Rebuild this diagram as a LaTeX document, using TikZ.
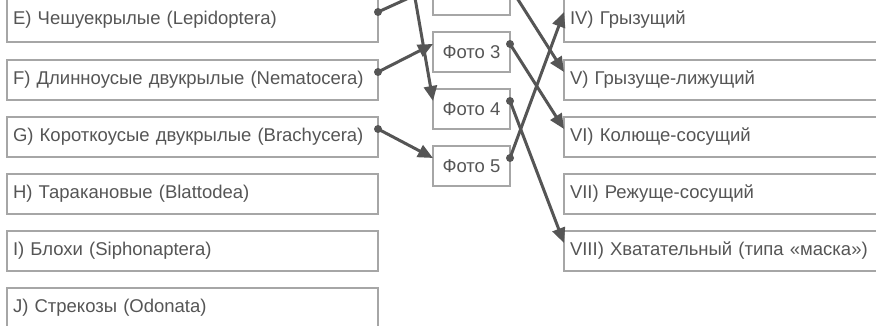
\documentclass[tikz,border=0pt]{standalone}
\usepackage{fontspec}
\setmainfont{Liberation Sans}
\usetikzlibrary{arrows.meta}
\definecolor{framegray}{HTML}{A6A6A6}
\definecolor{inkgray}{HTML}{555555}

\begin{document}
\begin{tikzpicture}[
  x=1pt, y=-1pt,
  order/.style={draw=framegray, line width=2pt, anchor=north west, outer sep=0pt,
    minimum height=40pt, inner xsep=6pt, text width=359pt, align=left,
    text=inkgray, font=\fontsize{18.5}{22}\selectfont},
  mouth/.style={order, text width=328pt},
  photo/.style={draw=framegray, line width=2pt, anchor=north west, outer sep=0pt,
    minimum height=40pt, minimum width=77pt, inner xsep=0pt,
    text=inkgray, font=\fontsize{18.5}{22}\selectfont},
  first/.style={minimum height=44pt},
  link/.style={draw=inkgray, line width=3pt, -{Triangle[length=15pt,width=13pt]}},
  dot/.style={fill=inkgray}
]
\useasboundingbox (0,0) rectangle (876,326);
\clip (0,0) rectangle (876,326);

% orders
\node[order, first] (e) at (7,-2) {E) Чешуекрылые (Lepidoptera)};
\node[order] (f) at (7,60) {F) Длинноусые двукрылые (Nematocera)};
\node[order] (g) at (7,117) {G) Короткоусые двукрылые (Brachycera)};
\node[order] (h) at (7,174) {H) Таракановые (Blattodea)};
\node[order] (i) at (7,231) {I) Блохи (Siphonaptera)};
\node[order] (j) at (7,288) {J) Стрекозы (Odonata)};

% photos
\node[photo] (p2) at (433,-25) {};
\node[photo] (p3) at (433,32) {Фото 3};
\node[photo] (p4) at (433,89) {Фото 4};
\node[photo] (p5) at (433,146) {Фото 5};

% mouthparts
\node[mouth, first] (iv) at (564,-2) {IV) Грызущий};
\node[mouth] (v) at (564,60) {V) Грызуще-лижущий};
\node[mouth] (vi) at (564,117) {VI) Колюще-сосущий};
\node[mouth] (vii) at (564,174) {VII) Режуще-сосущий};
\node[mouth] (viii) at (564,231) {VIII) Хватательный (типа «маска»)};

% free end (box above the picture)
\coordinate (a) at (378,-214);

% order -> photo
\draw[link] ([yshift=8pt]e.east) -- ([yshift=8pt]p2.west);
\draw[link] (a) -- ([yshift=8pt]p4.west);
\draw[link] ([yshift=8pt]f.east) -- ([yshift=8pt]p3.west);
\draw[link] ([yshift=8pt]g.east) -- ([yshift=8pt]p5.west);

% photo -> mouthparts
\draw[link] ([yshift=8pt]p2.east) -- ([yshift=8pt]v.west);
\draw[link] ([yshift=8pt]p3.east) -- ([yshift=8pt]vi.west);
\draw[link] ([yshift=8pt]p4.east) -- ([yshift=8pt]viii.west);
\draw[link] ([yshift=8pt]p5.east) -- ([yshift=8pt]iv.west);

% start dots
\fill[dot] ([yshift=8pt]e.east) circle (4pt);
\fill[dot] ([yshift=8pt]f.east) circle (4pt);
\fill[dot] ([yshift=8pt]g.east) circle (4pt);
\fill[dot] ([yshift=8pt]p2.east) circle (4pt);
\fill[dot] ([yshift=8pt]p3.east) circle (4pt);
\fill[dot] ([yshift=8pt]p4.east) circle (4pt);
\fill[dot] ([yshift=8pt]p5.east) circle (4pt);

\end{tikzpicture}
\end{document}
